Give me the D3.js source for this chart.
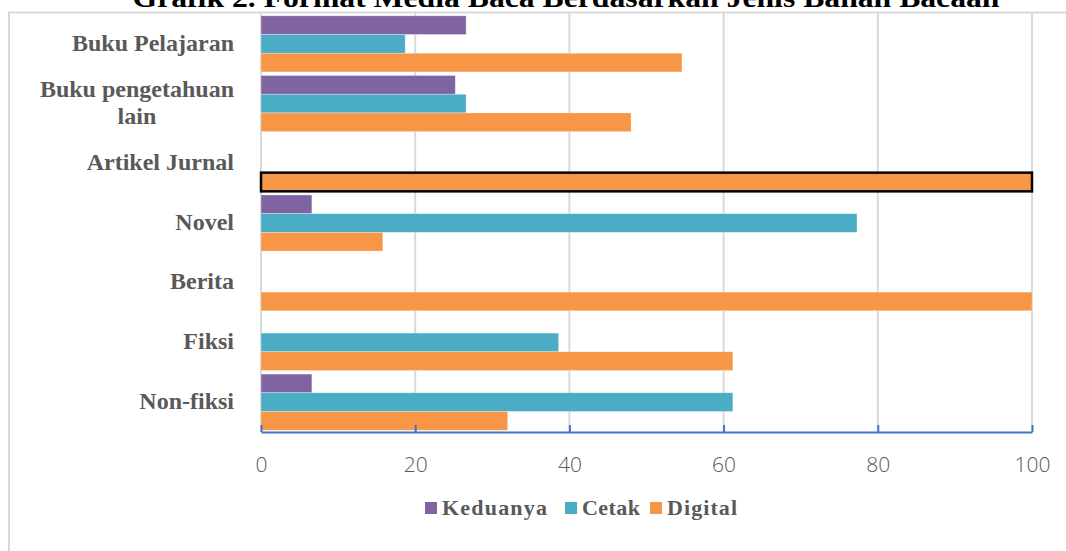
<!DOCTYPE html>
<html>
<head>
<meta charset="utf-8">
<script src="https://cdn.jsdelivr.net/npm/d3@7"></script>
<style>
  html, body { margin: 0; padding: 0; background: #fff; }
  svg { display: block; }
</style>
</head>
<body>
<div id="chart"></div>
<script>
// values (percent)
const categories = ["Buku Pelajaran", "Buku pengetahuan lain", "Artikel Jurnal", "Novel", "Berita", "Fiksi", "Non-fiksi"];
const seriesNames = ["Keduanya", "Cetak", "Digital"];
const keduanya = [26.6, 25.2, 0, 6.6, 0, 0, 6.6];
const cetak = [18.7, 26.6, 0, 77.3, 0, 38.6, 61.2];
const digital = [54.6, 48.0, 100, 15.8, 100, 61.2, 32.0];
const xTicks = [0, 20, 40, 60, 80, 100];
const title = "Grafik 2. Format Media Baca Berdasarkan Jenis Bahan Bacaan";

const width = 1066, height = 551;
const marginLeft = 261, marginRight = 34, marginTop = 14, marginBottom = 119;
const colors = ["#8064A2", "#4BACC6", "#F79646"];

const values = [keduanya, cetak, digital];
const data = categories.map((c, i) => ({
    category: c,
    bars: seriesNames.map((s, j) => ({series: s, value: values[j][i]}))
}));

const svg = d3.select("#chart").append("svg")
    .attr("width", width)
    .attr("height", height)
    .attr("viewBox", [0, 0, width, height]);

// chart frame (only top and left edge are inside the picture)
svg.append("rect")
    .attr("x", 9).attr("y", 12.5)
    .attr("width", width + 20).attr("height", height + 20)
    .attr("fill", "none")
    .attr("stroke", "#d9d9d9")
    .attr("stroke-width", 2);

// title, mostly cut off at the top like in the source
svg.append("text")
    .attr("x", 566).attr("y", 7)
    .attr("text-anchor", "middle")
    .attr("font-family", "Liberation Serif, serif")
    .attr("font-weight", "bold")
    .attr("font-size", 27)
    .attr("textLength", 867)
    .attr("lengthAdjust", "spacingAndGlyphs")
    .attr("fill", "#000")
    .text(title);

const xScale = d3.scaleLinear([0, 100], [marginLeft, width - marginRight]);
const y0 = d3.scaleBand(categories, [marginTop, height - marginBottom])
    .paddingInner(0.06)
    .paddingOuter(0.03);
const y1 = d3.scaleBand(seriesNames, [0, y0.bandwidth()]);
const color = d3.scaleOrdinal(seriesNames, colors);

// vertical gridlines
svg.append("g")
    .selectAll("line")
    .data(xTicks)
    .join("line")
    .attr("x1", d => xScale(d)).attr("x2", d => xScale(d))
    .attr("y1", 13).attr("y2", height - marginBottom)
    .attr("stroke", "#d9d9d9")
    .attr("stroke-width", 2);

// bars
svg.append("g")
    .selectAll("g")
    .data(data)
    .join("g")
    .attr("transform", d => `translate(0,${y0(d.category)})`)
    .selectAll("rect")
    .data(d => d.bars.filter(b => b.value > 0))
    .join("rect")
    .attr("x", xScale(0))
    .attr("y", d => y1(d.series))
    .attr("width", d => xScale(d.value) - xScale(0))
    .attr("height", y1.bandwidth())
    .attr("fill", d => color(d.series))
    .attr("stroke", "#fff")
    .attr("stroke-opacity", 0.5)
    .attr("stroke-width", 0.6);

// selected bar outline (Artikel Jurnal, Digital)
svg.append("rect")
    .attr("x", xScale(0))
    .attr("y", y0("Artikel Jurnal") + y1("Digital"))
    .attr("width", xScale(digital[2]) - xScale(0))
    .attr("height", y1.bandwidth())
    .attr("fill", "none")
    .attr("stroke", "#000")
    .attr("stroke-width", 2.5);

// x axis: blue line with inward ticks
const xAxis = d3.axisBottom(xScale).tickValues(xTicks).tickSize(-7).tickSizeOuter(0).tickPadding(25);
svg.append("g")
    .attr("transform", `translate(0,${height - marginBottom})`)
    .call(xAxis)
    .call(g => g.select(".domain").attr("stroke", "#4472C4").attr("stroke-width", 2))
    .call(g => g.selectAll(".tick line").attr("stroke", "#4472C4").attr("stroke-width", 2))
    .call(g => g.selectAll(".tick text")
        .attr("fill", "#595959")
        .attr("font-family", "Open Sans, sans-serif")
        .attr("font-weight", 300)
        .attr("font-size", 21));

// category labels (right aligned, wrapped lines centred in their box)
const labelRight = 234;
const labelGroup = svg.append("g")
    .attr("font-family", "Liberation Serif, serif")
    .attr("font-weight", "bold")
    .attr("font-size", 24)
    .attr("fill", "#595959");

const wrapLines = {"Buku pengetahuan lain": ["Buku pengetahuan", "lain"]};
categories.forEach(c => {
    const lines = wrapLines[c] || [c];
    const cy = y0(c) + y0.bandwidth() / 2;
    const lineH = 27;
    const t = labelGroup.append("text").attr("text-anchor", "middle");
    lines.forEach((l, i) => {
        t.append("tspan")
            .attr("y", cy + (i - (lines.length - 1) / 2) * lineH)
            .attr("dy", "0.28em")
            .text(l);
    });
    const w = d3.max(t.selectAll("tspan").nodes(), n => n.getComputedTextLength());
    t.selectAll("tspan").attr("x", labelRight - w / 2);
});

// legend
const legendItems = [
    {name: "Keduanya", x: 425, w: 105},
    {name: "Cetak", x: 565, w: 58},
    {name: "Digital", x: 650, w: 70}
];
const legend = svg.append("g")
    .attr("font-family", "Liberation Serif, serif")
    .attr("font-weight", "bold")
    .attr("font-size", 22)
    .attr("fill", "#595959");
legend.selectAll("rect")
    .data(legendItems)
    .join("rect")
    .attr("x", d => d.x)
    .attr("y", 502)
    .attr("width", 12)
    .attr("height", 12)
    .attr("fill", d => color(d.name));
legend.selectAll("text")
    .data(legendItems)
    .join("text")
    .attr("x", d => d.x + 17)
    .attr("y", 515)
    .attr("textLength", d => d.w)
    .attr("lengthAdjust", "spacing")
    .text(d => d.name);
</script>
</body>
</html>
